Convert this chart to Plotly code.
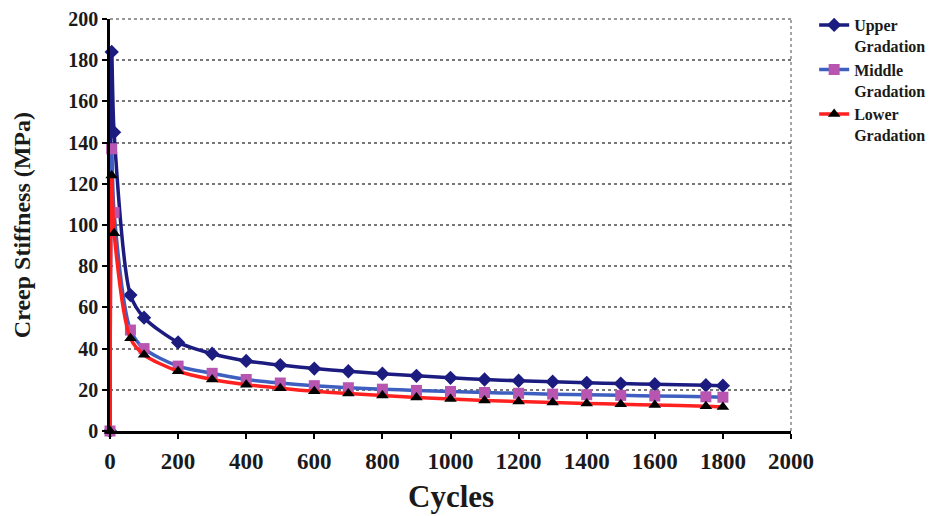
import plotly.graph_objects as go

cycles = [0, 5, 12, 60, 100, 200, 300, 400, 500, 600, 700, 800, 900, 1000,
          1100, 1200, 1300, 1400, 1500, 1600, 1750, 1800]
upper = [0, 184, 145, 66, 55, 43, 37.5, 34, 32, 30.3, 29, 27.8, 26.8, 25.8,
         25, 24.4, 23.9, 23.4, 23, 22.7, 22.2, 22]
middle = [0, 137, 106, 49, 40, 31.5, 28, 25, 23.3, 22, 21, 20.3, 19.7, 19.2,
          18.7, 18.3, 17.9, 17.6, 17.3, 17, 16.6, 16.4]
lower = [0, 124, 96, 45, 37, 29, 25, 22.5, 20.8, 19.3, 18.2, 17.2, 16.3, 15.5,
         14.8, 14.3, 13.8, 13.4, 13, 12.6, 12, 11.7]
names = ["Upper<br>Gradation", "Middle<br>Gradation", "Lower<br>Gradation"]
x_ticks = list(range(0, 2001, 200))
y_ticks = list(range(0, 201, 20))

FONT = "Liberation Serif"
TXT = "#1a1a1a"

fig = go.Figure()
fig.add_trace(go.Scatter(
    x=cycles, y=upper, name=names[0], mode="lines+markers",
    line=dict(color="#1c1c80", width=3.5, shape="spline", smoothing=0.8),
    marker=dict(symbol="diamond", size=11, color="#1c1c80"),
    cliponaxis=False))
fig.add_trace(go.Scatter(
    x=cycles, y=middle, name=names[1], mode="lines+markers",
    line=dict(color="#3f5fc0", width=3.5, shape="spline", smoothing=0.8),
    marker=dict(symbol="square", size=11, color="#b855b0"),
    cliponaxis=False))
fig.add_trace(go.Scatter(
    x=cycles, y=lower, name=names[2], mode="lines+markers",
    line=dict(color="#ff2020", width=3.5, shape="spline", smoothing=0.8),
    marker=dict(symbol="triangle-up", size=11, color="#000000"),
    cliponaxis=False))

# plot-area border on top and right (grey dotted, as in the reference)
fig.add_shape(type="line", xref="paper", yref="paper", x0=1, x1=1, y0=0, y1=1,
              line=dict(color="#888888", width=1.5, dash="dot"), layer="below")
fig.add_shape(type="line", xref="paper", yref="paper", x0=0, x1=1, y0=1, y1=1,
              line=dict(color="#777777", width=1.5, dash="dot"), layer="below")

fig.add_annotation(text="Creep Stiffness (MPa)", xref="paper", yref="paper",
                   x=-0.129, y=0.5, textangle=-90, showarrow=False,
                   xanchor="center", yanchor="middle",
                   font=dict(family=FONT, size=24, color=TXT, weight="bold"))
fig.add_annotation(text="Cycles", xref="paper", yref="paper",
                   x=0.5, y=-0.16, showarrow=False,
                   xanchor="center", yanchor="middle",
                   font=dict(family=FONT, size=31, color=TXT, weight="bold"))

# page body adds an 8px offset; size the figure so the plot area lands where the reference has it
fig.update_layout(
    width=941, height=508,
    margin=dict(l=102, r=158, t=11, b=85, autoexpand=False),
    paper_bgcolor="white", plot_bgcolor="white",
    font=dict(family=FONT, color=TXT),
    legend=dict(x=1.034, y=1.0, xref="paper", yref="container",
                xanchor="left", yanchor="top",
                font=dict(family=FONT, size=16, color=TXT, weight="bold"),
                valign="top", tracegroupgap=0, bgcolor="rgba(0,0,0,0)"),
    xaxis=dict(range=[0, 2000], tickvals=x_ticks, ticks="outside", ticklen=5,
               tickwidth=2, tickcolor="black", showline=True, linecolor="black",
               linewidth=2.5, showgrid=False, zeroline=False,
               ticklabelstandoff=3, automargin=False, ticklabeloverflow="allow",
               tickfont=dict(family=FONT, size=23, color=TXT, weight="bold")),
    yaxis=dict(range=[0, 200], tickvals=y_ticks, ticks="outside", ticklen=5,
               tickwidth=2, tickcolor="black", showline=True, linecolor="black",
               linewidth=2.5, showgrid=True, gridcolor="#777777", griddash="dot",
               gridwidth=1.5, zeroline=False, automargin=False,
               ticklabeloverflow="allow",
               tickfont=dict(family=FONT, size=20, color=TXT, weight="bold")),
)

fig.write_html("out.html")
